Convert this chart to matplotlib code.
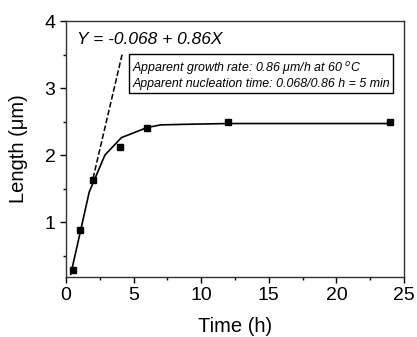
import matplotlib
matplotlib.use("Agg")
import matplotlib.pyplot as plt
from matplotlib.ticker import MultipleLocator

plt.rcParams["font.family"] = ["Liberation Sans", "DejaVu Sans"]

# measured lengths
time_h = [0.5, 1, 2, 4, 6, 12, 24]
length_um = [0.29, 0.88, 1.62, 2.12, 2.40, 2.50, 2.50]

# fitted curve
fit_t = [0.35, 1.0, 1.72, 2.88, 4.1, 6.0, 7.0, 9.2, 12, 24]
fit_len = [0.22, 0.80, 1.45, 2.00, 2.26, 2.41, 2.45, 2.46, 2.47, 2.47]

# linear growth line Y = -0.068 + 0.86X
intercept = -0.068
slope = 0.86
lin_t = [2.0, 4.15]


def make_plot():
    fig = plt.figure(figsize=(4.17, 3.37), dpi=100)
    ax = fig.add_axes([66 / 417, 60 / 337, 338 / 417, 256 / 337])

    ax.plot(fit_t, fit_len, color="black", lw=1.2)
    ax.plot(time_h, length_um, "s", color="black", ms=4)
    ax.plot(lin_t, [intercept + slope * t for t in lin_t], "--", color="black", lw=1.1)

    ax.set_xlim(0, 25)
    ax.set_ylim(0.18, 4)
    ax.xaxis.set_major_locator(MultipleLocator(5))
    ax.xaxis.set_minor_locator(MultipleLocator(2.5))
    ax.yaxis.set_major_locator(MultipleLocator(1))
    ax.yaxis.set_minor_locator(MultipleLocator(0.5))
    ax.tick_params(which="major", direction="out", length=4, width=1, labelsize=14)
    ax.tick_params(which="minor", direction="out", length=2.5, width=1)
    for s in ax.spines.values():
        s.set_linewidth(1.0)
        s.set_color("#333333")

    ax.set_xlabel("Time (h)", fontsize=14.5, labelpad=9)
    ax.set_ylabel("Length (\u03bcm)", fontsize=14.5, labelpad=12)

    ax.text(0.8, 3.72, "Y = -0.068 + 0.86X", fontsize=12.5, style="italic",
            va="center", ha="left")
    ax.text(4.9, 3.20,
            "Apparent growth rate: 0.86 \u03bcm/h at 60 $^{o}$C\n"
            "Apparent nucleation time: 0.068/0.86 h = 5 min",
            fontsize=8.9, style="italic", va="center", ha="left", linespacing=1.1,
            bbox=dict(boxstyle="square,pad=0.25", fc="white", ec="black", lw=1))

    plt.savefig("out.png", dpi=100)
    plt.close()


if __name__ == "__main__":
    make_plot()
